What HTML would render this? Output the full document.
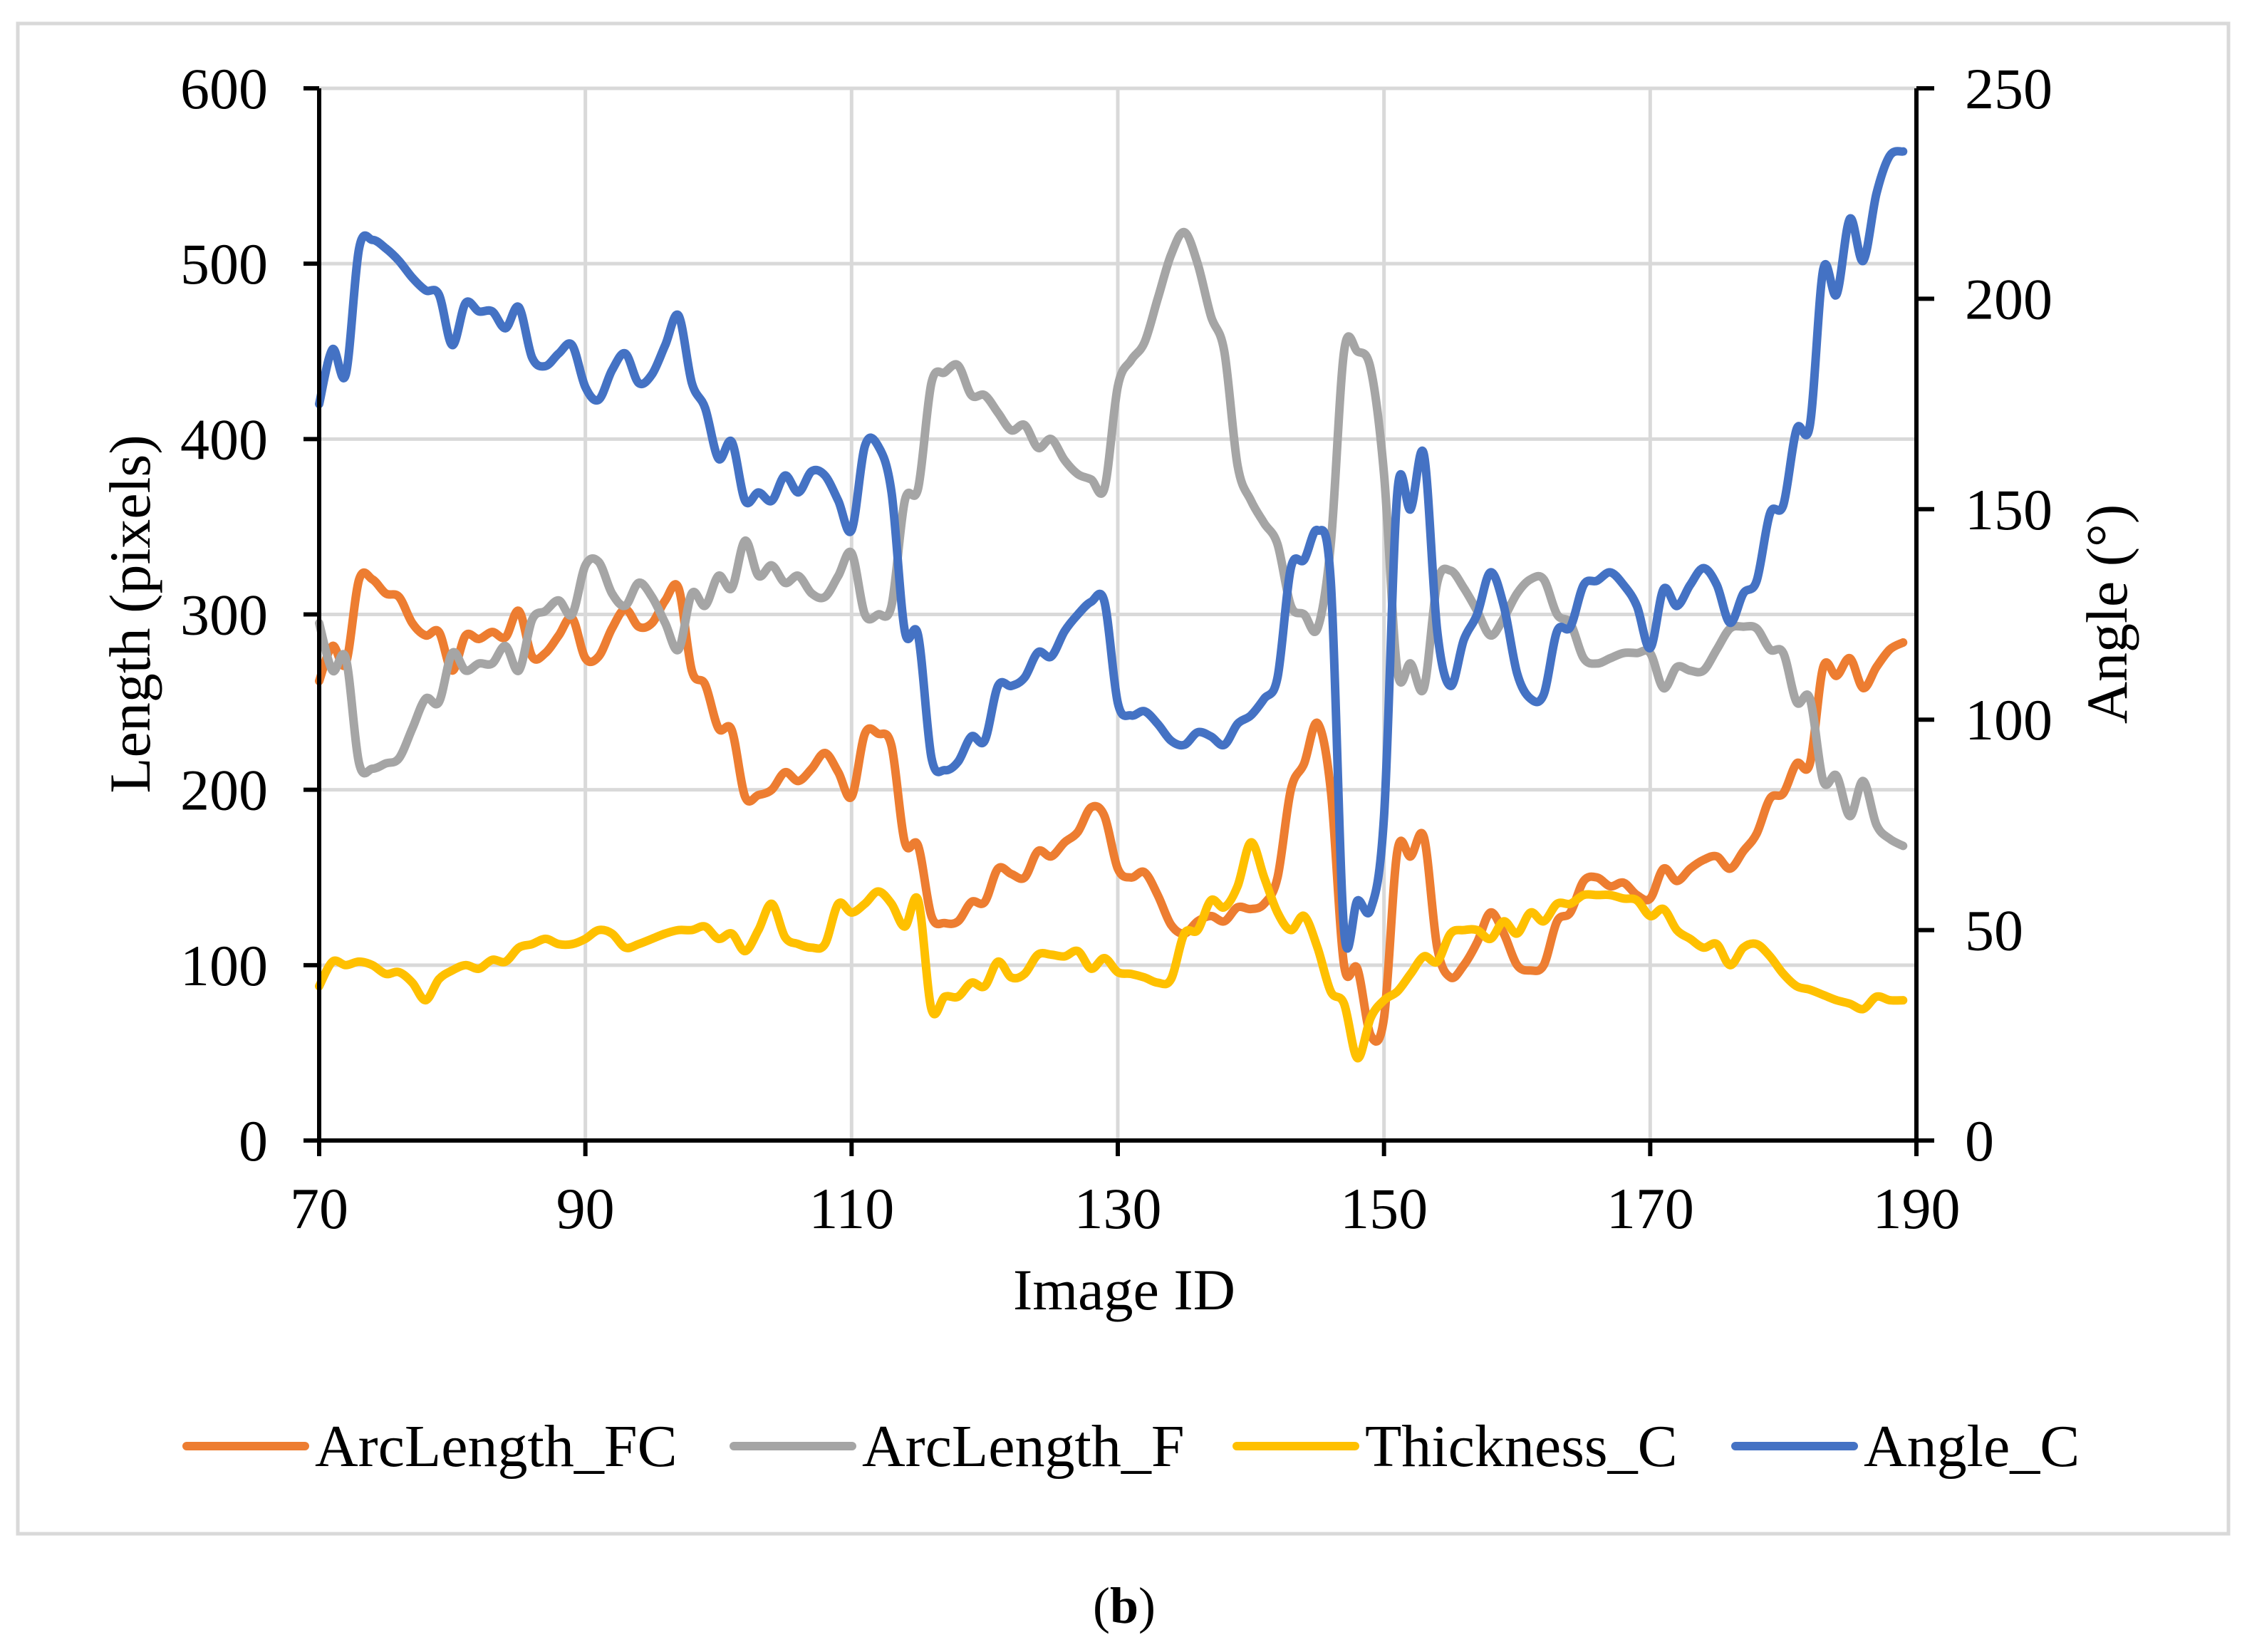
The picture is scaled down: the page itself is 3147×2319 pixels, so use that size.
<!DOCTYPE html>
<html><head><meta charset="utf-8"><style>
html,body{margin:0;padding:0;background:#fff;}
svg{display:block;font-family:"Liberation Serif",serif;}
</style></head><body>
<svg id="chart" width="3147" height="2319" viewBox="0 0 3147 2319" xmlns="http://www.w3.org/2000/svg">
<rect x="25" y="33" width="3103" height="2120" fill="#fff" stroke="#d9d9d9" stroke-width="5"/>
<g id="grid"></g>
<g id="series"></g>
<g id="axes"></g>
<text transform="translate(210,862) rotate(-90)" text-anchor="middle" font-size="82">Length (pixels)</text>
<text transform="translate(2985,862) rotate(-90)" text-anchor="middle" font-size="82">Angle (°)</text>
<text x="1578" y="1838" text-anchor="middle" font-size="82">Image ID</text>
<g id="legend"></g>
<text x="1578" y="2278" text-anchor="middle" font-size="72">(<tspan font-weight="bold">b</tspan>)</text>
</svg>
<script>
const xTicks=[70,90,110,130,150,170,190];
const yTicks=[0,100,200,300,400,500,600];
const y2Ticks=[0,50,100,150,200,250];
const ids=[];for(let i=70;i<=189;i++)ids.push(i);
const arcFC=[262,282,272,320,320,312,310,295,288,290,268,288,286,290,287,302,276,278,288,298,275,276,292,303,293,295,308,315,268,260,235,234,196,197,200,210,205,212,221,210,196,232,232,225,170,168,128,124,125,136,136,155,152,150,165,162,170,176,190,185,155,150,153,140,123,118,125,128,125,133,132,135,150,200,215,238,200,100,98,60,70,165,162,173,110,93,100,113,130,118,100,97,100,125,130,148,150,145,147,140,138,155,148,155,160,162,155,165,175,195,198,215,215,270,265,275,258,270,280,284];
const arcF=[295,268,275,215,212,215,218,235,252,250,278,268,272,272,282,268,297,302,308,300,328,330,312,305,318,310,295,280,312,305,322,315,342,322,328,318,322,312,310,322,335,300,300,305,365,372,432,438,442,425,425,415,405,408,395,400,388,380,377,372,430,445,455,480,505,518,500,470,450,385,365,352,340,305,300,292,340,450,450,440,380,268,272,258,318,325,315,302,288,298,312,320,320,300,295,275,272,275,278,278,278,258,270,268,268,280,292,293,292,280,278,250,252,205,208,185,205,180,172,168];
const thickC=[88,102,100,102,100,95,96,90,80,92,97,100,98,103,102,110,112,115,112,112,115,120,118,110,112,115,118,120,120,122,115,118,108,120,135,116,112,110,112,135,130,135,142,135,122,137,75,82,82,90,88,102,93,95,106,106,105,108,98,104,96,95,93,90,92,118,120,137,133,145,170,150,130,120,128,110,85,78,47,70,80,85,95,105,102,118,120,120,115,125,118,130,125,135,135,140,140,140,138,137,128,132,120,115,110,112,100,110,112,105,95,88,86,83,80,78,75,82,80,80];
const angleC=[175,188,182,212,214,212,209,205,202,201,189,199,197,197,193,198,186,184,187,189,179,176,183,187,180,182,189,196,180,174,162,166,152,154,152,158,154,159,158,152,145,165,165,154,121,120,91,88,90,96,95,108,108,110,116,115,121,125,128,128,104,101,102,99,95,94,97,96,94,99,101,105,110,136,138,145,133,50,57,55,77,154,150,163,121,108,119,125,135,127,111,105,106,121,122,132,133,135,132,127,117,131,127,132,136,132,123,130,133,149,151,169,170,207,201,219,209,225,234,235];
const seriesNames=["ArcLength_FC","ArcLength_F","Thickness_C","Angle_C"];
const colors=["#ed7d31","#a5a5a5","#ffc000","#4472c4"];

const X0=448,X1=2690,YT=124,YB=1601;
const sx=v=>X0+(v-70)/(190-70)*(X1-X0);
const sy=v=>YB-v/600*(YB-YT);
const sy2=v=>YB-v/250*(YB-YT);
const NS="http://www.w3.org/2000/svg";
function mk(tag,attrs,parent){const e=document.createElementNS(NS,tag);for(const k in attrs)e.setAttribute(k,attrs[k]);parent.appendChild(e);return e;}
const grid=document.getElementById('grid'),axes=document.getElementById('axes'),ser=document.getElementById('series'),leg=document.getElementById('legend');
xTicks.forEach(t=>{
  if(t>70&&t<190){const l=mk('line',{x1:sx(t),x2:sx(t),y1:YT,y2:YB,stroke:'#d9d9d9','stroke-width':5},grid);
  
  }
  const tk=mk('line',{x1:sx(t),x2:sx(t),y1:YB,y2:YB+22,stroke:'#000','stroke-width':6},axes);
  
  
  const tx=mk('text',{x:sx(t),y:1724,'text-anchor':'middle','font-size':82},axes);tx.textContent=t;
  
  
});
yTicks.forEach(t=>{
  if(t>0){const l=mk('line',{x1:X0,x2:X1,y1:sy(t),y2:sy(t),stroke:'#d9d9d9','stroke-width':5},grid);
  
  }
  const tk=mk('line',{x1:X0-22,x2:X0,y1:sy(t),y2:sy(t),stroke:'#000','stroke-width':6},axes);
  
  
  const tx=mk('text',{x:376,y:sy(t)+28,'text-anchor':'end','font-size':82},axes);tx.textContent=t;
  
  
});
y2Ticks.forEach(t=>{
  const tk=mk('line',{x1:X1,x2:X1+25,y1:sy2(t),y2:sy2(t),stroke:'#000','stroke-width':6},axes);
  
  
  const tx=mk('text',{x:2758,y:sy2(t)+28,'text-anchor':'start','font-size':82},axes);tx.textContent=t;
  
  
});
[[X0,YT,X0,YB+3],[X0-3,YB,X1+3,YB],[X1,YT,X1,YB+3]].forEach((a,i)=>{
  const l=mk('line',{x1:a[0],y1:a[1],x2:a[2],y2:a[3],stroke:'#000','stroke-width':6},axes);
  
  
});
function smooth(pts){let d=`M${pts[0][0]},${pts[0][1]}`;
 for(let i=0;i<pts.length-1;i++){const p0=pts[i-1]||pts[i],p1=pts[i],p2=pts[i+1],p3=pts[i+2]||p2;
  const c1=[p1[0]+(p2[0]-p0[0])/6,p1[1]+(p2[1]-p0[1])/6],c2=[p2[0]-(p3[0]-p1[0])/6,p2[1]-(p3[1]-p1[1])/6];
  d+=` C${c1[0].toFixed(1)},${c1[1].toFixed(1)} ${c2[0].toFixed(1)},${c2[1].toFixed(1)} ${p2[0].toFixed(1)},${p2[1].toFixed(1)}`;}
 return d;}
const data=[arcFC,arcF,thickC,angleC];
const keys=['arcfc','arcf','thickness-c','angle-c'];
data.forEach((arr,s)=>{
  const f=s===3?sy2:sy;
  const pts=arr.map((v,i)=>[sx(ids[i]),f(v)]);
  const p=mk('path',{d:smooth(pts),fill:'none',stroke:colors[s],'stroke-width':12,'stroke-linejoin':'round','stroke-linecap':'round'},ser);
  
  
});
const legX=[262,1030,1736,2436];
seriesNames.forEach((n,s)=>{
  const l=mk('line',{x1:legX[s],x2:legX[s]+166,y1:2030,y2:2030,stroke:colors[s],'stroke-width':12,'stroke-linecap':'round'},leg);
  
  
  const t=mk('text',{x:legX[s]+180,y:2058,'font-size':84},leg);t.textContent=n;
  
  
});
</script>
</body></html>
